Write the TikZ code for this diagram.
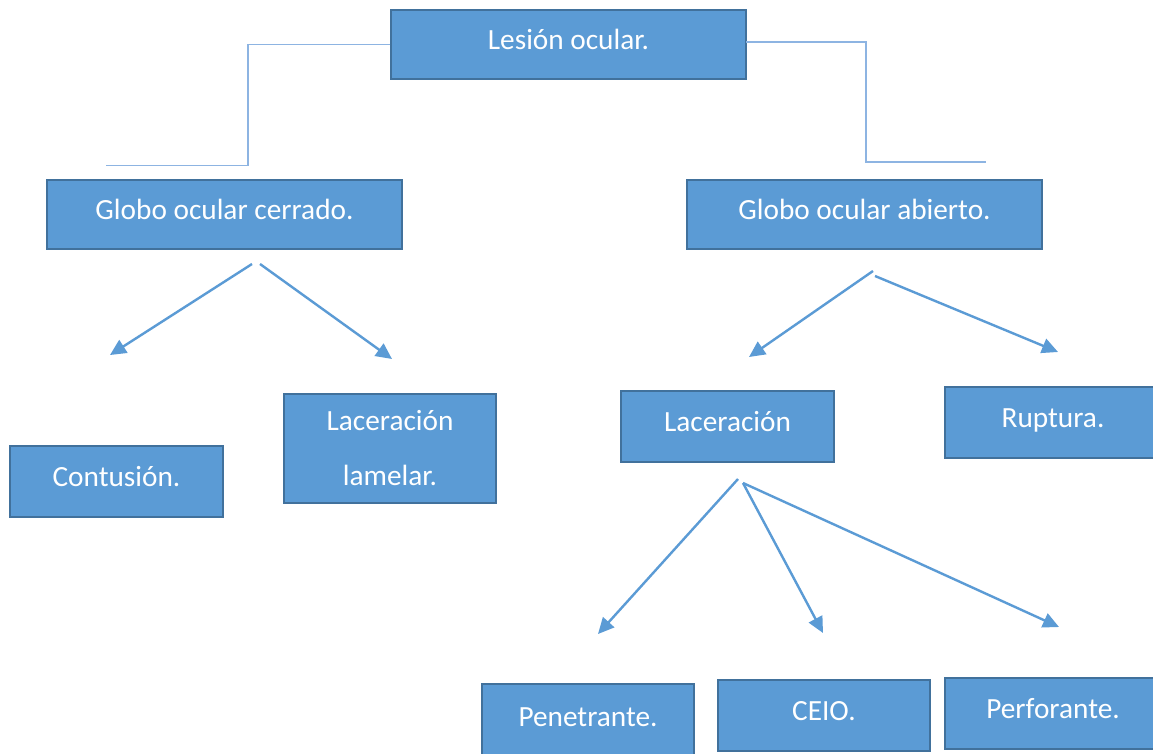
\documentclass[tikz,border=0pt]{standalone}
\usepackage{fontspec}
\setmainfont{Carlito}
\usetikzlibrary{arrows.meta}
\definecolor{boxfill}{HTML}{5B9BD5}
\definecolor{boxline}{HTML}{41719C}
\definecolor{linkline}{HTML}{8DB4E2}
\begin{document}
\begin{tikzpicture}[x=1pt,y=-1pt,
  box/.style={draw=boxline, line width=2pt, fill=boxfill, text=white,
    font=\fontsize{29.3}{55}\selectfont, inner sep=0pt, align=center},
  fixtext/.style={text height=18pt, text depth=8pt},
  wide/.style={fixtext, minimum width=355pt, minimum height=69pt},
  small/.style={fixtext, minimum width=213pt, minimum height=71pt},
  link/.style={draw=linkline, line width=1.6pt},
  arr/.style={draw=boxfill, line width=2.4pt, -{Triangle[length=16pt,width=15pt]}}]
\useasboundingbox (0,0) rectangle (1153,754);
\fill[white] (0,0) rectangle (1153,754);

\node[box,wide] (lesion) at (568.5,44.5) {Lesión ocular.};
\node[box,wide] (cerrado) at (224.5,214.5) {Globo ocular cerrado.};
\node[box,wide] (abierto) at (864.5,214.5) {Globo ocular abierto.};
\node[box,small] (contusion) at (116.5,481.5) {Contusión.};
\node[box,minimum width=212pt,minimum height=109pt] (lamelar) at (390,448) {Laceración\\lamelar.};
\node[box,small] (laceracion) at (727.5,426.5) {Laceración};
\node[box,small,minimum width=216pt] (ruptura) at (1053,422.5) {Ruptura.};
\node[box,small,minimum width=212pt,minimum height=76pt,text depth=10pt] (penetrante) at (588,722) {Penetrante.};
\node[box,small,minimum width=212pt] (ceio) at (824,715) {CEIO.};
\node[box,small,minimum width=216pt] (perforante) at (1053,713) {Perforante.};

% top connectors
\coordinate (lend) at (106,165.5);
\coordinate (rstart) at (746,42);
\coordinate (rend) at (986,162);
\draw[link] (lesion.west) -| (248,165.5) -- (lend);
\draw[link] (rstart) -| (866,162) -- (rend);

% arrows from Globo ocular cerrado
\coordinate (c1) at (252,264);
\coordinate (c2) at (260,264);
\coordinate (t1) at (110,355);
\coordinate (t2) at (392,359);
\draw[arr] (c1) -- (t1);
\draw[arr] (c2) -- (t2);

% arrows from Globo ocular abierto
\coordinate (a1) at (873,271);
\coordinate (a2) at (875,276);
\coordinate (u1) at (749,357);
\coordinate (u2) at (1058,352);
\draw[arr] (a1) -- (u1);
\draw[arr] (a2) -- (u2);

% arrows from Laceracion
\coordinate (l1) at (738,479);
\coordinate (l2) at (743,483);
\coordinate (v1) at (598,634);
\coordinate (v2) at (823,633);
\coordinate (v3) at (1059,627);
\draw[arr] (l1) -- (v1);
\draw[arr] (l2) -- (v2);
\draw[arr] (l2) -- (v3);
\end{tikzpicture}
\end{document}
